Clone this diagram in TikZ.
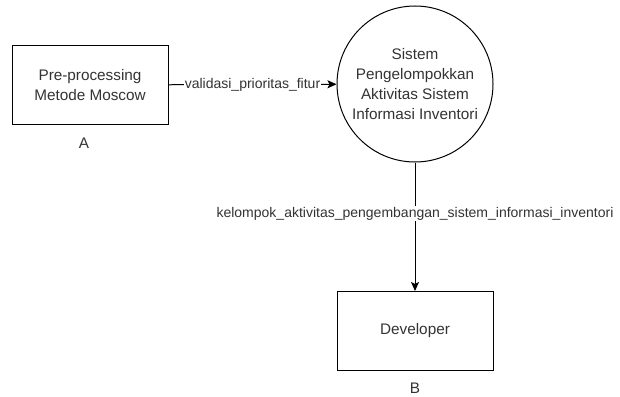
\documentclass[tikz,border=0pt]{standalone}
\usepackage{fontspec}
\setmainfont{Liberation Sans}
\usetikzlibrary{arrows.meta}
\definecolor{txt}{HTML}{333333}
\tikzset{
  entity/.style={draw=black, line width=1pt, minimum width=156pt, minimum height=79pt, text=txt, font=\fontsize{15.3}{20}\selectfont, align=center, inner sep=0pt},
  proc/.style={draw=black, line width=1pt, circle, minimum size=156pt, text=txt, font=\fontsize{15.3}{20}\selectfont, align=center, inner sep=0pt},
  tag/.style={text=txt, font=\fontsize{15.3}{18}\selectfont},
  flow/.style={line width=1pt, -{Stealth[length=9pt,width=8pt,inset=2pt]}},
  flowlabel/.style={fill=white, text=txt, font=\fontsize{14}{16}\selectfont, inner sep=1pt}
}
\begin{document}
\begin{tikzpicture}[x=1pt,y=-1pt]
  \useasboundingbox (0,0) rectangle (620,396);
  % external entities and process
  \node[entity] (pre) at (90,85) {Pre-processing\\Metode Moscow};
  \node[tag] (tagA) at (84,143) {A};
  \node[proc] (sys) at (415,84) {Sistem\\Pengelompokkan\\Aktivitas Sistem\\Informasi Inventori};
  \node[entity] (dev) at (415,331) {Developer};
  \node[tag] (tagB) at (415,388) {B};
  % data flows
  \draw[flow] (pre) -- node[flowlabel] {validasi\_prioritas\_fitur} (sys);
  \draw[flow] (sys) -- node[flowlabel, pos=0.4] {kelompok\_aktivitas\_pengembangan\_sistem\_informasi\_inventori} (dev);
\end{tikzpicture}
\end{document}
